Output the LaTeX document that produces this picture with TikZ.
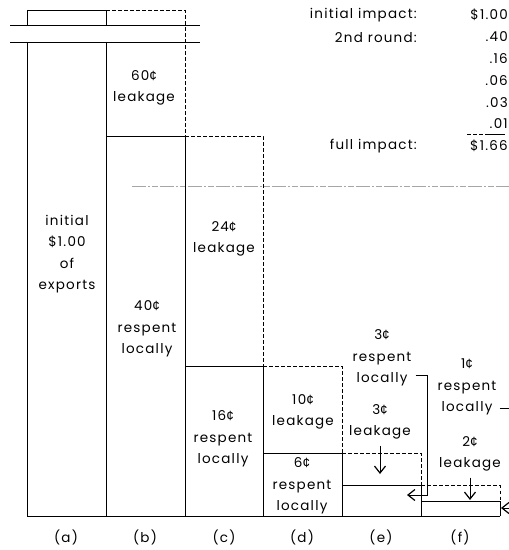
\documentclass[tikz,border=0pt]{standalone}
\usepackage{fontspec}
\setmainfont{Poppins}[LetterSpace=9]
\newfontfamily\centfont{Liberation Sans}
\newcommand{\ctsign}{{\centfont ¢}}
\usetikzlibrary{arrows.meta}

\tikzset{
  solid box/.style={draw,line width=1pt},
  leak box/.style={draw,line width=1pt,dash pattern=on 3.5pt off 2.5pt},
  txt/.style={align=center,inner sep=0pt,font=\fontsize{13.5}{21.5}\selectfont},
  tab/.style={anchor=east,inner sep=0pt,font=\fontsize{13.5}{21.5}\selectfont},
  arr/.style={line width=1pt,-{Straight Barb[length=7pt,width=11pt,line width=1.2pt]}},
}

\begin{document}
\begin{tikzpicture}[x=1pt,y=-1pt]
  \useasboundingbox (0,0) rectangle (509,550);

  % gray reference line
  \draw[gray!70,line width=0.9pt,dash pattern=on 14pt off 2pt on 2pt off 2pt on 6pt off 2pt] (132,186) -- (509,186);

  % (a) initial exports, broken at the top
  \draw[solid box] (27,25) -- (27,10) -- (106,10) -- (106,25);
  \draw[solid box] (10,25.5) -- (200,25.5);
  \draw[solid box] (10,42) -- (200,42);
  \draw[solid box] (27,42) -- (27,516) -- (500,516);

  % (b)
  \draw[solid box] (106,42) -- (106,516);
  \draw[solid box] (106,136) -- (185,136) -- (185,516);
  \draw[leak box] (106,10) -- (185,10) -- (185,136);

  % (c)
  \draw[leak box] (185,136) -- (263,136) -- (263,366);
  \draw[solid box] (185,366) -- (263,366) -- (263,516);

  % (d)
  \draw[leak box] (263,366) -- (342,366) -- (342,453);
  \draw[solid box] (263,453) -- (342,453) -- (342,516);

  % (e)
  \draw[leak box] (342,453) -- (421,453) -- (421,485.5);
  \draw[solid box] (342,485.5) -- (421,485.5) -- (421,516);

  % (f)
  \draw[leak box] (421,485.5) -- (500,485.5) -- (500,501);
  \draw[solid box] (421,501) -- (500,501) -- (500,516);

  % labels in the columns
  \node[txt] (alab)  at (67,254)  {initial\\\$1.00\\of\\exports};
  \node[txt] (bleak) at (144,88)  {60\ctsign\\leakage};
  \node[txt] (bresp) at (147,329) {40\ctsign\\respent\\locally};
  \node[txt] (cleak) at (224,239) {24\ctsign\\leakage};
  \node[txt] (cresp) at (223,439) {16\ctsign\\respent\\locally};
  \node[txt] (dleak) at (303,412) {10\ctsign\\leakage};
  \node[txt] (dresp) at (302,486) {6\ctsign\\respent\\locally};
  \node[txt] (eresp) at (382,358) {3\ctsign\\respent\\locally};
  \node[txt] (eleak) at (380,422) {3\ctsign\\leakage};
  \node[txt] (fresp) at (467,387) {1\ctsign\\respent\\locally};
  \node[txt] (fleak) at (470,454) {2\ctsign\\leakage};

  % arrows
  \coordinate (etip) at (380,474);
  \coordinate (ftip) at (470,500);
  \draw[arr] (eleak.south) ++(0,6) -- (etip);
  \draw[arr] (fleak.south) ++(0,6) -- (ftip);
  \coordinate (ebend) at (427,375);
  \coordinate (etgt) at (407,495);
  \draw[arr] (ebend -| eresp.east) ++(4,0) -- (ebend) |- (etgt);
  \coordinate (fbend) at (516,408);
  \coordinate (ftgt) at (501,508);
  \draw[arr] (fbend -| fresp.east) ++(3,0) -- (fbend) |- (ftgt);

  % column names
  \node[txt] (na) at (66,537)  {(a)};
  \node[txt] (nb) at (145,537) {(b)};
  \node[txt] (nc) at (224,537) {(c)};
  \node[txt] (nd) at (302,537) {(d)};
  \node[txt] (ne) at (381,537) {(e)};
  \node[txt] (nf) at (460,537) {(f)};

  % summary table
  \node[tab] (t1) at (417,15)  {initial impact:};
  \node[tab] (t2) at (417,38)  {2nd round:};
  \node[tab] (t7) at (417,146) {full impact:};
  \foreach \v [count=\i] in {\$1.00,.40,.16,.06,.03,.01}
    \node[tab] (v\i) at (508,{15+21.8*(\i-1)}) {\v};
  \node[tab] (v7) at (508,146) {\$1.66};
  \draw[line width=0.9pt,dash pattern=on 4pt off 2pt] (467,134) -- (486,134);
  \draw[line width=0.9pt] (486,134) -- (505,134);
\end{tikzpicture}
\end{document}
